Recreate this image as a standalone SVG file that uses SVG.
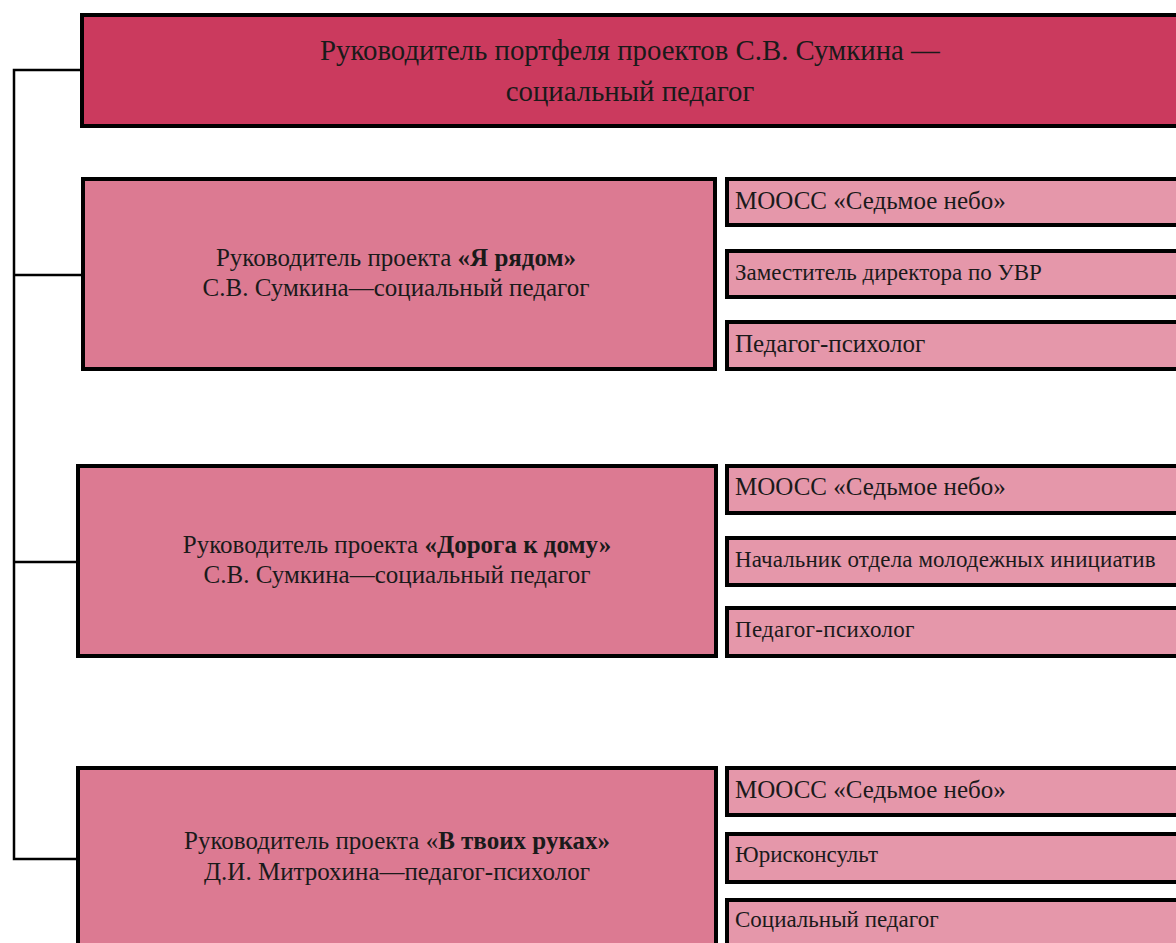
<svg xmlns="http://www.w3.org/2000/svg" width="1176" height="943" viewBox="0 0 1176 943">
<style>
text{font-family:"Liberation Serif","Times New Roman",serif;fill:#1a1a1a}
.top{fill:#CB3A5E;stroke:#000;stroke-width:4}
.mid{fill:#DC7A92;stroke:#000;stroke-width:4}
.sub{fill:#E597AA;stroke:#000;stroke-width:4}
.conn{fill:none;stroke:#000;stroke-width:2.5}
.t1{font-size:28.8px}
.t2{font-size:25px}
.t3{font-size:23px}
</style>
<rect width="1176" height="943" fill="#fff"/>
<g id="connectors">
<path class="conn" d="M82 70 H14 V859 H78"/>
<path class="conn" d="M14 275 H83"/>
<path class="conn" d="M14 562 H78"/>
</g>
<g id="portfolio">
<rect class="top" x="82" y="15" width="1100" height="111"/>
<text class="t1" x="630" y="60" text-anchor="middle">Руководитель портфеля проектов С.В. Сумкина —</text>
<text class="t1" x="630" y="101" text-anchor="middle">социальный педагог</text>
</g>
<g id="project1">
<rect class="mid" x="83" y="179" width="632" height="190"/>
<text class="t2" x="396" y="266" text-anchor="middle">Руководитель проекта <tspan font-weight="bold">«Я рядом»</tspan></text>
<text class="t2" x="396" y="296" text-anchor="middle">С.В. Сумкина—социальный педагог</text>
</g>
<g id="p1a"><rect class="sub" x="727" y="179" width="460" height="46"/><text class="t2" x="735" y="209">МООСС «Седьмое небо»</text></g>
<g id="p1b"><rect class="sub" x="727" y="251" width="460" height="46"/><text class="t3" x="735" y="280">Заместитель директора по УВР</text></g>
<g id="p1c"><rect class="sub" x="727" y="322" width="460" height="47"/><text class="t2" x="735" y="352">Педагог-психолог</text></g>
<g id="project2">
<rect class="mid" x="78" y="466" width="638" height="190"/>
<text class="t2" x="397" y="553" text-anchor="middle">Руководитель проекта <tspan font-weight="bold">«Дорога к дому»</tspan></text>
<text class="t2" x="397" y="583" text-anchor="middle">С.В. Сумкина—социальный педагог</text>
</g>
<g id="p2a"><rect class="sub" x="727" y="466" width="460" height="47"/><text class="t2" x="735" y="495">МООСС «Седьмое небо»</text></g>
<g id="p2b"><rect class="sub" x="727" y="538" width="460" height="47"/><text class="t3" x="735" y="567" letter-spacing="0.1">Начальник отдела молодежных инициатив</text></g>
<g id="p2c"><rect class="sub" x="727" y="608" width="460" height="48"/><text class="t3" x="735" y="637" letter-spacing="0.3">Педагог-психолог</text></g>
<g id="project3">
<rect class="mid" x="78" y="768" width="638" height="190"/>
<text class="t2" x="397" y="849" text-anchor="middle">Руководитель проекта «<tspan font-weight="bold">В твоих руках»</tspan></text>
<text class="t2" x="397" y="880" text-anchor="middle">Д.И. Митрохина—педагог-психолог</text>
</g>
<g id="p3a"><rect class="sub" x="727" y="768" width="460" height="47"/><text class="t2" x="735" y="798">МООСС «Седьмое небо»</text></g>
<g id="p3b"><rect class="sub" x="727" y="834" width="460" height="48"/><text class="t3" x="735" y="862">Юрисконсульт</text></g>
<g id="p3c"><rect class="sub" x="727" y="900" width="460" height="60"/><text class="t3" x="735" y="927">Социальный педагог</text></g>
</svg>
